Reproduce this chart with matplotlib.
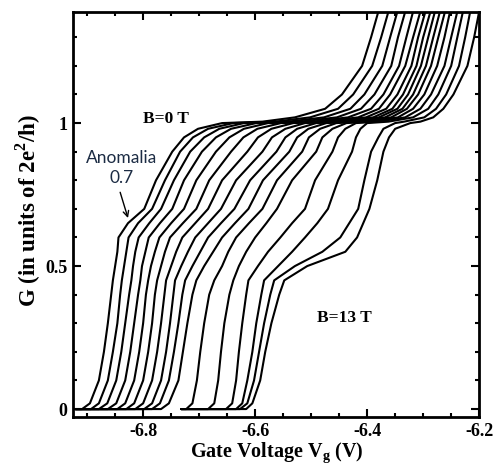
import matplotlib.pyplot as plt
from matplotlib.ticker import MultipleLocator

# conductance levels (units of 2e^2/h) shared by every trace
g_levels = [0, 0, 0.02, 0.1, 0.2, 0.3, 0.4, 0.45, 0.5, 0.55, 0.6, 0.65, 0.7,
            0.8, 0.9, 0.95, 0.98, 1.0, 1.005, 1.02, 1.05, 1.1, 1.2, 1.3, 1.39]

# gate voltage (V) at which each trace reaches those levels, B=0 T first
vg_01 = [-6.921, -6.909, -6.895, -6.879, -6.870, -6.863, -6.857, -6.854, -6.850, -6.846, -6.844, -6.827, -6.798,
         -6.777, -6.748, -6.727, -6.702, -6.659, -6.587, -6.529, -6.475, -6.445, -6.409, -6.393, -6.380]
vg_02 = [-6.921, -6.893, -6.879, -6.863, -6.854, -6.846, -6.841, -6.838, -6.834, -6.830, -6.826, -6.809, -6.784,
         -6.761, -6.734, -6.711, -6.684, -6.639, -6.564, -6.502, -6.452, -6.425, -6.391, -6.375, -6.362]
vg_03 = [-6.921, -6.879, -6.864, -6.848, -6.839, -6.832, -6.825, -6.821, -6.818, -6.814, -6.808, -6.789, -6.768,
         -6.745, -6.716, -6.691, -6.664, -6.620, -6.541, -6.477, -6.430, -6.405, -6.373, -6.359, -6.346]
vg_04 = [-6.921, -6.863, -6.848, -6.832, -6.823, -6.816, -6.809, -6.805, -6.802, -6.796, -6.790, -6.770, -6.748,
         -6.727, -6.695, -6.670, -6.643, -6.598, -6.520, -6.454, -6.411, -6.387, -6.357, -6.345, -6.332]
vg_05 = [-6.921, -6.846, -6.832, -6.816, -6.807, -6.800, -6.795, -6.791, -6.786, -6.779, -6.771, -6.750, -6.727,
         -6.705, -6.670, -6.646, -6.620, -6.577, -6.498, -6.434, -6.393, -6.371, -6.343, -6.330, -6.318]
vg_06 = [-6.921, -6.830, -6.816, -6.800, -6.791, -6.784, -6.779, -6.775, -6.768, -6.761, -6.752, -6.729, -6.705,
         -6.682, -6.643, -6.621, -6.596, -6.554, -6.480, -6.416, -6.379, -6.359, -6.332, -6.318, -6.305]
vg_07 = [-6.921, -6.814, -6.800, -6.784, -6.775, -6.768, -6.762, -6.759, -6.750, -6.741, -6.730, -6.707, -6.684,
         -6.659, -6.614, -6.595, -6.571, -6.532, -6.462, -6.402, -6.366, -6.346, -6.321, -6.309, -6.296]
vg_08 = [-6.921, -6.798, -6.784, -6.768, -6.759, -6.752, -6.746, -6.743, -6.732, -6.720, -6.707, -6.684, -6.661,
         -6.634, -6.587, -6.570, -6.546, -6.511, -6.448, -6.389, -6.355, -6.336, -6.312, -6.300, -6.287]
vg_09 = [-6.921, -6.784, -6.770, -6.754, -6.745, -6.737, -6.730, -6.725, -6.712, -6.698, -6.684, -6.661, -6.637,
         -6.609, -6.562, -6.546, -6.525, -6.491, -6.434, -6.379, -6.346, -6.327, -6.304, -6.291, -6.279]
vg_10 = [-6.921, -6.768, -6.754, -6.737, -6.729, -6.721, -6.712, -6.705, -6.691, -6.675, -6.659, -6.636, -6.612,
         -6.586, -6.539, -6.525, -6.505, -6.473, -6.421, -6.368, -6.337, -6.318, -6.295, -6.282, -6.270]
vg_11 = [-6.732, -6.723, -6.712, -6.704, -6.698, -6.691, -6.682, -6.673, -6.659, -6.648, -6.634, -6.611, -6.587,
         -6.561, -6.516, -6.504, -6.484, -6.455, -6.409, -6.357, -6.329, -6.309, -6.286, -6.273, -6.261]
vg_12 = [-6.732, -6.684, -6.673, -6.666, -6.661, -6.655, -6.646, -6.639, -6.629, -6.616, -6.600, -6.580, -6.561,
         -6.534, -6.491, -6.480, -6.462, -6.437, -6.395, -6.345, -6.318, -6.298, -6.275, -6.262, -6.252]
vg_13 = [-6.732, -6.652, -6.641, -6.634, -6.629, -6.623, -6.616, -6.612, -6.595, -6.577, -6.555, -6.534, -6.511,
         -6.493, -6.462, -6.452, -6.439, -6.420, -6.380, -6.332, -6.305, -6.286, -6.262, -6.250, -6.239]
vg_14 = [-6.732, -6.634, -6.623, -6.614, -6.605, -6.598, -6.589, -6.584, -6.559, -6.534, -6.511, -6.489, -6.470,
         -6.452, -6.427, -6.420, -6.412, -6.400, -6.362, -6.318, -6.291, -6.273, -6.250, -6.239, -6.229]
vg_15 = [-6.732, -6.627, -6.614, -6.602, -6.593, -6.584, -6.573, -6.566, -6.529, -6.480, -6.448, -6.432, -6.416,
         -6.405, -6.393, -6.380, -6.371, -6.350, -6.334, -6.298, -6.277, -6.259, -6.236, -6.225, -6.216]
vg_16 = [-6.732, -6.616, -6.605, -6.591, -6.582, -6.571, -6.557, -6.548, -6.507, -6.439, -6.418, -6.407, -6.396,
         -6.382, -6.371, -6.361, -6.350, -6.323, -6.305, -6.282, -6.264, -6.246, -6.221, -6.209, -6.200]

traces = [vg_01, vg_02, vg_03, vg_04, vg_05, vg_06, vg_07, vg_08,
          vg_09, vg_10, vg_11, vg_12, vg_13, vg_14, vg_15, vg_16]

serif = 'Liberation Serif'
plt.rcParams['mathtext.fontset'] = 'custom'
plt.rcParams['mathtext.rm'] = serif
plt.rcParams['mathtext.bf'] = serif + ':bold'

fig = plt.figure(figsize=(4.94, 4.66), dpi=100)
ax = fig.add_axes([0.148, 0.105, 0.822, 0.869])

for vg in traces:
    ax.plot(vg, g_levels, color='black', lw=1.5, solid_joinstyle='round', solid_capstyle='round')

ax.set_xlim(-6.925, -6.2)
ax.set_ylim(-0.028, 1.388)

ax.xaxis.set_minor_locator(MultipleLocator(0.05))
ax.yaxis.set_minor_locator(MultipleLocator(0.1))
ax.set_xticks([-6.8, -6.6, -6.4, -6.2])
ax.set_xticklabels(['-6.8', '-6.6', '-6.4', '-6.2'])
ax.set_yticks([0, 0.5, 1])
ax.set_yticklabels(['0', '0.5', '1'])

ax.tick_params(which='both', direction='in', top=True, right=True, width=1.5)
ax.tick_params(which='major', length=6, pad=4)
ax.tick_params(which='minor', length=3)
for lab in ax.get_xticklabels() + ax.get_yticklabels():
    lab.set_fontfamily(serif)
    lab.set_fontweight('bold')
    lab.set_fontsize(13)

for sp in ax.spines.values():
    sp.set_linewidth(2)

ax.set_xlabel('Gate Voltage V$_\\mathbf{g}$ (V)', fontfamily=serif, fontweight='bold',
              fontsize=14.5)
ax.set_ylabel('G (in units of 2e$^\\mathbf{2}$/h)', fontfamily=serif, fontweight='bold',
              fontsize=16.5)
ax.xaxis.set_label_coords(0.502, -0.058)
ax.yaxis.set_label_coords(-0.075, 0.51)

ax.text(-6.759, 1.014, 'B=0 T', fontfamily=serif, fontweight='bold', fontsize=12.5,
        ha='center', va='center')
ax.text(-6.441, 0.318, 'B=13 T', fontfamily=serif, fontweight='bold', fontsize=12.5,
        ha='center', va='center')

# note and arrow pointing at the 0.7 shoulder of the B=0 trace
ax.text(-6.838, 0.843, 'Anomalia\n0.7', fontfamily='Lato', fontsize=12.5, color='#1c2c44',
        ha='center', va='center', linespacing=1.25)
ax.annotate('', xy=(-6.827, 0.668), xytext=(-6.841, 0.758),
            arrowprops=dict(arrowstyle='->', color='black', lw=1, shrinkA=0, shrinkB=0))

fig.savefig('out.png', dpi=100)
